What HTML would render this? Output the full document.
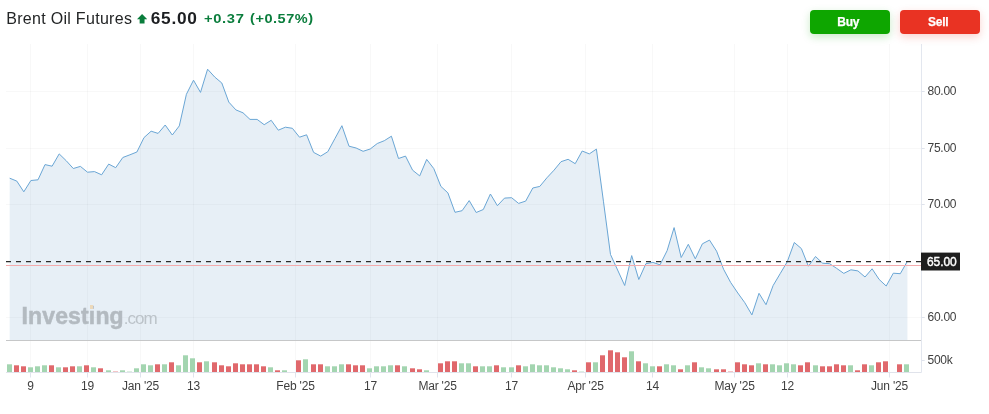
<!DOCTYPE html>
<html><head><meta charset="utf-8"><title>Brent Oil Futures</title>
<style>
html,body{margin:0;padding:0;background:#fff;}
body{width:989px;height:414px;overflow:hidden;position:relative;font-family:"Liberation Sans",sans-serif;}
#root{position:absolute;left:0;top:0;width:989px;height:414px;overflow:hidden;background:#fff;will-change:transform;-webkit-font-smoothing:antialiased;}
.hdr{position:absolute;left:0;top:0;width:400px;height:40px;color:#232526;}
.hdr span{position:absolute;white-space:nowrap;line-height:20px;height:20px;transform-origin:0 50%;display:block;}
.hdr .nm{font-size:16px;left:6.2px;top:9.1px;letter-spacing:0.3px;}
.hdr .pr{font-size:17.3px;font-weight:bold;left:150.8px;top:8.0px;letter-spacing:0.7px;transform:scaleX(1.0);color:#1c1e21;}
.hdr .ch{font-size:13.5px;font-weight:bold;color:#0a7d3c;left:204.2px;top:9.4px;letter-spacing:0.6px;transform:scaleX(1.09);}
.hdr .pc{font-size:13.5px;font-weight:bold;color:#0a7d3c;left:250.3px;top:9.4px;letter-spacing:0.5px;transform:scaleX(1.075);}
.hdr .pc i{font-style:normal;position:relative;top:-1.6px;}
.btn{position:absolute;top:10px;width:80.4px;height:24px;border-radius:4px;color:#fff;font-weight:bold;font-size:12px;line-height:24px;text-align:center;letter-spacing:-0.3px;box-sizing:border-box;padding-right:4px;-webkit-text-stroke:0.25px #fff;}
.buy{left:810px;background:#0ea600;box-shadow:0 3px 8px rgba(14,166,0,0.22);}
.sell{left:900px;background:#e93323;box-shadow:0 3px 8px rgba(233,51,35,0.22);}
.tl{position:absolute;top:378px;width:80px;text-align:center;font-size:12px;line-height:16px;color:#404040;letter-spacing:-0.2px;white-space:nowrap;}
.pl{position:absolute;left:927.5px;font-size:12px;line-height:16px;color:#404040;letter-spacing:-0.25px;white-space:nowrap;}
.cur{position:absolute;left:921px;top:252.8px;width:39px;height:17.5px;background:#1e1e1e;color:#fff;font-size:12px;font-weight:normal;-webkit-text-stroke:0.4px #fff;line-height:20.4px;text-align:center;letter-spacing:-0.1px;box-sizing:border-box;padding-left:2.2px;overflow:hidden;}
.wm{position:absolute;left:21.5px;top:302.5px;white-space:nowrap;color:#b3bac0;line-height:26px;height:26px;}
.wm b{font-size:23px;letter-spacing:0.15px;-webkit-text-stroke:0.5px #b3bac0;}
.wm span{font-size:17px;letter-spacing:-1.0px;color:#bcc3c9;}
.dot{position:absolute;left:90px;top:305.3px;width:3.4px;height:3.6px;background:#ecd9bb;}
</style></head><body><div id="root">
<svg width="989" height="414" viewBox="0 0 989 414" style="position:absolute;left:0;top:0">
<line x1="30.5" y1="44" x2="30.5" y2="372.5" stroke="rgba(0,0,0,0.027)" stroke-width="1"/>
<line x1="87.5" y1="44" x2="87.5" y2="372.5" stroke="rgba(0,0,0,0.027)" stroke-width="1"/>
<line x1="140.5" y1="44" x2="140.5" y2="372.5" stroke="rgba(0,0,0,0.027)" stroke-width="1"/>
<line x1="193.5" y1="44" x2="193.5" y2="372.5" stroke="rgba(0,0,0,0.027)" stroke-width="1"/>
<line x1="295.5" y1="44" x2="295.5" y2="372.5" stroke="rgba(0,0,0,0.027)" stroke-width="1"/>
<line x1="370.5" y1="44" x2="370.5" y2="372.5" stroke="rgba(0,0,0,0.027)" stroke-width="1"/>
<line x1="437.5" y1="44" x2="437.5" y2="372.5" stroke="rgba(0,0,0,0.027)" stroke-width="1"/>
<line x1="511.5" y1="44" x2="511.5" y2="372.5" stroke="rgba(0,0,0,0.027)" stroke-width="1"/>
<line x1="585.5" y1="44" x2="585.5" y2="372.5" stroke="rgba(0,0,0,0.027)" stroke-width="1"/>
<line x1="652.5" y1="44" x2="652.5" y2="372.5" stroke="rgba(0,0,0,0.027)" stroke-width="1"/>
<line x1="734.5" y1="44" x2="734.5" y2="372.5" stroke="rgba(0,0,0,0.027)" stroke-width="1"/>
<line x1="787.5" y1="44" x2="787.5" y2="372.5" stroke="rgba(0,0,0,0.027)" stroke-width="1"/>
<line x1="889.5" y1="44" x2="889.5" y2="372.5" stroke="rgba(0,0,0,0.027)" stroke-width="1"/>
<line x1="6" y1="91.5" x2="921.5" y2="91.5" stroke="rgba(0,0,0,0.027)" stroke-width="1"/>
<line x1="6" y1="148.5" x2="921.5" y2="148.5" stroke="rgba(0,0,0,0.027)" stroke-width="1"/>
<line x1="6" y1="204.5" x2="921.5" y2="204.5" stroke="rgba(0,0,0,0.027)" stroke-width="1"/>
<line x1="6" y1="317.5" x2="921.5" y2="317.5" stroke="rgba(0,0,0,0.027)" stroke-width="1"/>
<path d="M9.7 178.2 L16.8 181.1 L23.8 191.8 L30.9 180.5 L38.0 179.8 L45.0 164.6 L52.1 166.2 L59.2 153.9 L66.2 160.7 L73.3 168.5 L80.4 166.4 L87.5 172.2 L94.5 171.6 L101.6 174.8 L108.7 164.1 L115.7 167.7 L122.8 157.5 L129.9 154.8 L136.9 152.0 L144.0 137.6 L151.1 131.2 L158.1 133.4 L165.2 125.0 L172.3 135.0 L179.3 125.9 L186.4 94.3 L193.5 80.2 L200.5 92.4 L207.6 69.2 L214.7 77.0 L221.8 83.0 L228.8 102.1 L235.9 109.9 L243.0 112.8 L250.0 119.4 L257.1 119.4 L264.2 124.7 L271.2 120.3 L278.3 130.2 L285.4 127.2 L292.4 128.3 L299.5 137.2 L306.6 134.8 L313.6 152.4 L320.7 156.1 L327.8 151.7 L334.9 138.6 L341.9 125.7 L349.0 146.2 L356.1 148.0 L363.1 151.3 L370.2 149.0 L377.3 143.5 L384.3 140.7 L391.4 136.2 L398.5 158.5 L405.5 156.1 L412.6 170.2 L419.7 175.9 L426.7 159.4 L433.8 168.6 L440.9 186.4 L447.9 192.9 L455.0 212.3 L462.1 210.7 L469.2 200.6 L476.2 212.5 L483.3 209.5 L490.4 194.0 L497.4 205.7 L504.5 198.1 L511.6 197.7 L518.6 203.4 L525.7 201.1 L532.8 188.0 L539.8 186.4 L546.9 177.8 L554.0 170.2 L561.0 161.7 L568.1 159.3 L575.2 163.7 L582.2 151.0 L589.3 153.9 L596.4 149.1 L603.5 201.8 L610.5 254.5 L617.6 270.0 L624.7 285.5 L631.7 255.6 L638.8 279.5 L645.9 263.7 L652.9 262.4 L660.0 264.8 L667.1 250.7 L674.1 227.6 L681.2 257.5 L688.3 244.3 L695.3 258.8 L702.4 243.8 L709.5 240.1 L716.6 251.2 L723.6 269.3 L730.7 282.5 L737.8 293.0 L744.8 302.7 L751.9 314.9 L759.0 293.3 L766.0 304.7 L773.1 285.6 L780.2 273.6 L787.2 261.9 L794.3 242.5 L801.4 248.6 L808.4 266.2 L815.5 256.5 L822.6 263.2 L829.6 263.7 L836.7 268.4 L843.8 273.4 L850.9 269.8 L857.9 270.9 L865.0 277.0 L872.1 268.8 L879.1 279.4 L886.2 286.0 L893.3 273.2 L900.3 273.7 L907.4 261.2 L907.4 340 L9.7 340 Z" fill="#4684ba" fill-opacity="0.13" stroke="none"/>
<path d="M9.7 178.2 L16.8 181.1 L23.8 191.8 L30.9 180.5 L38.0 179.8 L45.0 164.6 L52.1 166.2 L59.2 153.9 L66.2 160.7 L73.3 168.5 L80.4 166.4 L87.5 172.2 L94.5 171.6 L101.6 174.8 L108.7 164.1 L115.7 167.7 L122.8 157.5 L129.9 154.8 L136.9 152.0 L144.0 137.6 L151.1 131.2 L158.1 133.4 L165.2 125.0 L172.3 135.0 L179.3 125.9 L186.4 94.3 L193.5 80.2 L200.5 92.4 L207.6 69.2 L214.7 77.0 L221.8 83.0 L228.8 102.1 L235.9 109.9 L243.0 112.8 L250.0 119.4 L257.1 119.4 L264.2 124.7 L271.2 120.3 L278.3 130.2 L285.4 127.2 L292.4 128.3 L299.5 137.2 L306.6 134.8 L313.6 152.4 L320.7 156.1 L327.8 151.7 L334.9 138.6 L341.9 125.7 L349.0 146.2 L356.1 148.0 L363.1 151.3 L370.2 149.0 L377.3 143.5 L384.3 140.7 L391.4 136.2 L398.5 158.5 L405.5 156.1 L412.6 170.2 L419.7 175.9 L426.7 159.4 L433.8 168.6 L440.9 186.4 L447.9 192.9 L455.0 212.3 L462.1 210.7 L469.2 200.6 L476.2 212.5 L483.3 209.5 L490.4 194.0 L497.4 205.7 L504.5 198.1 L511.6 197.7 L518.6 203.4 L525.7 201.1 L532.8 188.0 L539.8 186.4 L546.9 177.8 L554.0 170.2 L561.0 161.7 L568.1 159.3 L575.2 163.7 L582.2 151.0 L589.3 153.9 L596.4 149.1 L603.5 201.8 L610.5 254.5 L617.6 270.0 L624.7 285.5 L631.7 255.6 L638.8 279.5 L645.9 263.7 L652.9 262.4 L660.0 264.8 L667.1 250.7 L674.1 227.6 L681.2 257.5 L688.3 244.3 L695.3 258.8 L702.4 243.8 L709.5 240.1 L716.6 251.2 L723.6 269.3 L730.7 282.5 L737.8 293.0 L744.8 302.7 L751.9 314.9 L759.0 293.3 L766.0 304.7 L773.1 285.6 L780.2 273.6 L787.2 261.9 L794.3 242.5 L801.4 248.6 L808.4 266.2 L815.5 256.5 L822.6 263.2 L829.6 263.7 L836.7 268.4 L843.8 273.4 L850.9 269.8 L857.9 270.9 L865.0 277.0 L872.1 268.8 L879.1 279.4 L886.2 286.0 L893.3 273.2 L900.3 273.7 L907.4 261.2" fill="none" stroke="#6aa6d5" stroke-width="1.0" stroke-linejoin="round"/>
<line x1="6" y1="340.5" x2="921.5" y2="340.5" stroke="#c6c7c8" stroke-width="1"/>
<rect x="7" y="364.3" width="5" height="7.7" fill="#a3d5b0" fill-opacity="1"/>
<rect x="14" y="365.3" width="5" height="6.7" fill="#e0686c" fill-opacity="1"/>
<rect x="21" y="366.3" width="5" height="5.7" fill="#e0686c" fill-opacity="1"/>
<rect x="28" y="367.3" width="5" height="4.7" fill="#a3d5b0" fill-opacity="1"/>
<rect x="35" y="366.3" width="5" height="5.7" fill="#a3d5b0" fill-opacity="1"/>
<rect x="42" y="365.3" width="5" height="6.7" fill="#a3d5b0" fill-opacity="1"/>
<rect x="49" y="365.3" width="5" height="6.7" fill="#e0686c" fill-opacity="1"/>
<rect x="56" y="367.3" width="5" height="4.7" fill="#a3d5b0" fill-opacity="1"/>
<rect x="63" y="367.3" width="5" height="4.7" fill="#e0686c" fill-opacity="1"/>
<rect x="70" y="366.3" width="5" height="5.7" fill="#e0686c" fill-opacity="1"/>
<rect x="77" y="366.3" width="5" height="5.7" fill="#a3d5b0" fill-opacity="1"/>
<rect x="84" y="365.3" width="5" height="6.7" fill="#e0686c" fill-opacity="1"/>
<rect x="91" y="367.3" width="5" height="4.7" fill="#a3d5b0" fill-opacity="1"/>
<rect x="98" y="368.3" width="5" height="3.7" fill="#e0686c" fill-opacity="1"/>
<rect x="106" y="370.3" width="5" height="1.7" fill="#a3d5b0" fill-opacity="1"/>
<rect x="113" y="371.3" width="5" height="0.7" fill="#e0686c" fill-opacity="0.55"/>
<rect x="120" y="370.3" width="5" height="1.7" fill="#a3d5b0" fill-opacity="1"/>
<rect x="127" y="371.3" width="5" height="0.7" fill="#a3d5b0" fill-opacity="0.55"/>
<rect x="134" y="368.3" width="5" height="3.7" fill="#a3d5b0" fill-opacity="1"/>
<rect x="141" y="364.3" width="5" height="7.7" fill="#a3d5b0" fill-opacity="1"/>
<rect x="148" y="365.3" width="5" height="6.7" fill="#a3d5b0" fill-opacity="1"/>
<rect x="155" y="364.3" width="5" height="7.7" fill="#e0686c" fill-opacity="1"/>
<rect x="162" y="364.3" width="5" height="7.7" fill="#a3d5b0" fill-opacity="1"/>
<rect x="169" y="362.3" width="5" height="9.7" fill="#e0686c" fill-opacity="1"/>
<rect x="176" y="365.3" width="5" height="6.7" fill="#a3d5b0" fill-opacity="1"/>
<rect x="183" y="355.3" width="5" height="16.7" fill="#a3d5b0" fill-opacity="1"/>
<rect x="190" y="358.3" width="5" height="13.7" fill="#a3d5b0" fill-opacity="1"/>
<rect x="197" y="362.3" width="5" height="9.7" fill="#e0686c" fill-opacity="1"/>
<rect x="204" y="361.3" width="5" height="10.7" fill="#a3d5b0" fill-opacity="1"/>
<rect x="212" y="362.3" width="5" height="9.7" fill="#e0686c" fill-opacity="1"/>
<rect x="219" y="365.3" width="5" height="6.7" fill="#e0686c" fill-opacity="1"/>
<rect x="226" y="366.3" width="5" height="5.7" fill="#e0686c" fill-opacity="1"/>
<rect x="233" y="363.3" width="5" height="8.7" fill="#e0686c" fill-opacity="1"/>
<rect x="240" y="364.3" width="5" height="7.7" fill="#e0686c" fill-opacity="1"/>
<rect x="247" y="364.3" width="5" height="7.7" fill="#e0686c" fill-opacity="1"/>
<rect x="254" y="364.3" width="5" height="7.7" fill="#e0686c" fill-opacity="1"/>
<rect x="261" y="366.3" width="5" height="5.7" fill="#e0686c" fill-opacity="1"/>
<rect x="268" y="367.3" width="5" height="4.7" fill="#a3d5b0" fill-opacity="1"/>
<rect x="275" y="370.3" width="5" height="1.7" fill="#e0686c" fill-opacity="1"/>
<rect x="282" y="370.3" width="5" height="1.7" fill="#a3d5b0" fill-opacity="1"/>
<rect x="296" y="360.3" width="5" height="11.7" fill="#e0686c" fill-opacity="1"/>
<rect x="303" y="359.3" width="5" height="12.7" fill="#a3d5b0" fill-opacity="1"/>
<rect x="311" y="364.3" width="5" height="7.7" fill="#e0686c" fill-opacity="1"/>
<rect x="318" y="364.3" width="5" height="7.7" fill="#e0686c" fill-opacity="1"/>
<rect x="325" y="366.3" width="5" height="5.7" fill="#a3d5b0" fill-opacity="1"/>
<rect x="332" y="366.3" width="5" height="5.7" fill="#a3d5b0" fill-opacity="1"/>
<rect x="339" y="364.3" width="5" height="7.7" fill="#a3d5b0" fill-opacity="1"/>
<rect x="346" y="364.3" width="5" height="7.7" fill="#e0686c" fill-opacity="1"/>
<rect x="353" y="365.3" width="5" height="6.7" fill="#e0686c" fill-opacity="1"/>
<rect x="360" y="365.3" width="5" height="6.7" fill="#e0686c" fill-opacity="1"/>
<rect x="367" y="368.3" width="5" height="3.7" fill="#a3d5b0" fill-opacity="1"/>
<rect x="374" y="366.3" width="5" height="5.7" fill="#a3d5b0" fill-opacity="1"/>
<rect x="381" y="366.3" width="5" height="5.7" fill="#a3d5b0" fill-opacity="1"/>
<rect x="388" y="365.3" width="5" height="6.7" fill="#a3d5b0" fill-opacity="1"/>
<rect x="395" y="365.3" width="5" height="6.7" fill="#e0686c" fill-opacity="1"/>
<rect x="402" y="366.3" width="5" height="5.7" fill="#a3d5b0" fill-opacity="1"/>
<rect x="410" y="368.3" width="5" height="3.7" fill="#e0686c" fill-opacity="1"/>
<rect x="417" y="369.3" width="5" height="2.7" fill="#e0686c" fill-opacity="1"/>
<rect x="424" y="370.3" width="5" height="1.7" fill="#a3d5b0" fill-opacity="1"/>
<rect x="438" y="363.3" width="5" height="8.7" fill="#e0686c" fill-opacity="1"/>
<rect x="445" y="361.3" width="5" height="10.7" fill="#e0686c" fill-opacity="1"/>
<rect x="452" y="361.3" width="5" height="10.7" fill="#e0686c" fill-opacity="1"/>
<rect x="459" y="363.3" width="5" height="8.7" fill="#a3d5b0" fill-opacity="1"/>
<rect x="466" y="363.3" width="5" height="8.7" fill="#a3d5b0" fill-opacity="1"/>
<rect x="473" y="366.3" width="5" height="5.7" fill="#e0686c" fill-opacity="1"/>
<rect x="480" y="366.3" width="5" height="5.7" fill="#a3d5b0" fill-opacity="1"/>
<rect x="487" y="366.3" width="5" height="5.7" fill="#a3d5b0" fill-opacity="1"/>
<rect x="494" y="365.3" width="5" height="6.7" fill="#e0686c" fill-opacity="1"/>
<rect x="501" y="367.3" width="5" height="4.7" fill="#a3d5b0" fill-opacity="1"/>
<rect x="509" y="367.3" width="5" height="4.7" fill="#a3d5b0" fill-opacity="1"/>
<rect x="516" y="365.3" width="5" height="6.7" fill="#e0686c" fill-opacity="1"/>
<rect x="523" y="366.3" width="5" height="5.7" fill="#a3d5b0" fill-opacity="1"/>
<rect x="530" y="364.3" width="5" height="7.7" fill="#a3d5b0" fill-opacity="1"/>
<rect x="537" y="365.3" width="5" height="6.7" fill="#a3d5b0" fill-opacity="1"/>
<rect x="544" y="365.3" width="5" height="6.7" fill="#a3d5b0" fill-opacity="1"/>
<rect x="551" y="367.3" width="5" height="4.7" fill="#a3d5b0" fill-opacity="1"/>
<rect x="558" y="368.3" width="5" height="3.7" fill="#a3d5b0" fill-opacity="1"/>
<rect x="565" y="369.3" width="5" height="2.7" fill="#a3d5b0" fill-opacity="1"/>
<rect x="572" y="370.3" width="5" height="1.7" fill="#e0686c" fill-opacity="1"/>
<rect x="579" y="371.3" width="5" height="0.7" fill="#a3d5b0" fill-opacity="0.55"/>
<rect x="586" y="362.3" width="5" height="9.7" fill="#e0686c" fill-opacity="1"/>
<rect x="593" y="362.3" width="5" height="9.7" fill="#a3d5b0" fill-opacity="1"/>
<rect x="600" y="355.3" width="5" height="16.7" fill="#e0686c" fill-opacity="1"/>
<rect x="608" y="350.3" width="5" height="21.7" fill="#e0686c" fill-opacity="1"/>
<rect x="615" y="352.3" width="5" height="19.7" fill="#e0686c" fill-opacity="1"/>
<rect x="622" y="357.3" width="5" height="14.7" fill="#e0686c" fill-opacity="1"/>
<rect x="629" y="351.3" width="5" height="20.7" fill="#a3d5b0" fill-opacity="1"/>
<rect x="636" y="361.3" width="5" height="10.7" fill="#e0686c" fill-opacity="1"/>
<rect x="643" y="363.3" width="5" height="8.7" fill="#a3d5b0" fill-opacity="1"/>
<rect x="650" y="366.3" width="5" height="5.7" fill="#a3d5b0" fill-opacity="1"/>
<rect x="657" y="366.3" width="5" height="5.7" fill="#e0686c" fill-opacity="1"/>
<rect x="664" y="364.3" width="5" height="7.7" fill="#a3d5b0" fill-opacity="1"/>
<rect x="671" y="365.3" width="5" height="6.7" fill="#a3d5b0" fill-opacity="1"/>
<rect x="678" y="369.3" width="5" height="2.7" fill="#e0686c" fill-opacity="1"/>
<rect x="685" y="365.3" width="5" height="6.7" fill="#a3d5b0" fill-opacity="1"/>
<rect x="692" y="362.3" width="5" height="9.7" fill="#e0686c" fill-opacity="1"/>
<rect x="699" y="367.3" width="5" height="4.7" fill="#a3d5b0" fill-opacity="1"/>
<rect x="706" y="368.3" width="5" height="3.7" fill="#a3d5b0" fill-opacity="1"/>
<rect x="714" y="369.3" width="5" height="2.7" fill="#e0686c" fill-opacity="1"/>
<rect x="721" y="369.3" width="5" height="2.7" fill="#e0686c" fill-opacity="1"/>
<rect x="728" y="371.3" width="5" height="0.7" fill="#e0686c" fill-opacity="0.55"/>
<rect x="735" y="362.3" width="5" height="9.7" fill="#e0686c" fill-opacity="1"/>
<rect x="742" y="364.3" width="5" height="7.7" fill="#e0686c" fill-opacity="1"/>
<rect x="749" y="365.3" width="5" height="6.7" fill="#e0686c" fill-opacity="1"/>
<rect x="756" y="363.3" width="5" height="8.7" fill="#a3d5b0" fill-opacity="1"/>
<rect x="763" y="364.3" width="5" height="7.7" fill="#e0686c" fill-opacity="1"/>
<rect x="770" y="364.3" width="5" height="7.7" fill="#a3d5b0" fill-opacity="1"/>
<rect x="777" y="365.3" width="5" height="6.7" fill="#a3d5b0" fill-opacity="1"/>
<rect x="784" y="363.3" width="5" height="8.7" fill="#a3d5b0" fill-opacity="1"/>
<rect x="791" y="364.3" width="5" height="7.7" fill="#a3d5b0" fill-opacity="1"/>
<rect x="798" y="365.3" width="5" height="6.7" fill="#e0686c" fill-opacity="1"/>
<rect x="805" y="362.3" width="5" height="9.7" fill="#e0686c" fill-opacity="1"/>
<rect x="813" y="365.3" width="5" height="6.7" fill="#a3d5b0" fill-opacity="1"/>
<rect x="820" y="366.3" width="5" height="5.7" fill="#e0686c" fill-opacity="1"/>
<rect x="827" y="366.3" width="5" height="5.7" fill="#e0686c" fill-opacity="1"/>
<rect x="834" y="364.3" width="5" height="7.7" fill="#e0686c" fill-opacity="1"/>
<rect x="841" y="365.3" width="5" height="6.7" fill="#e0686c" fill-opacity="1"/>
<rect x="848" y="365.3" width="5" height="6.7" fill="#a3d5b0" fill-opacity="1"/>
<rect x="855" y="370.3" width="5" height="1.7" fill="#e0686c" fill-opacity="1"/>
<rect x="862" y="364.3" width="5" height="7.7" fill="#e0686c" fill-opacity="1"/>
<rect x="869" y="365.3" width="5" height="6.7" fill="#a3d5b0" fill-opacity="1"/>
<rect x="876" y="362.3" width="5" height="9.7" fill="#e0686c" fill-opacity="1"/>
<rect x="883" y="361.3" width="5" height="10.7" fill="#e0686c" fill-opacity="1"/>
<rect x="897" y="364.3" width="5" height="7.7" fill="#e0686c" fill-opacity="1"/>
<rect x="904" y="364.3" width="5" height="7.7" fill="#a3d5b0" fill-opacity="1"/>
<line x1="6" y1="372.5" x2="921.5" y2="372.5" stroke="#e0e3eb" stroke-width="1"/>
<line x1="921.5" y1="44" x2="921.5" y2="372.5" stroke="#e3e7ef" stroke-width="1"/>
<line x1="30.5" y1="372.5" x2="30.5" y2="377.5" stroke="#dfe3ec" stroke-width="1"/>
<line x1="87.5" y1="372.5" x2="87.5" y2="377.5" stroke="#dfe3ec" stroke-width="1"/>
<line x1="140.5" y1="372.5" x2="140.5" y2="377.5" stroke="#dfe3ec" stroke-width="1"/>
<line x1="193.5" y1="372.5" x2="193.5" y2="377.5" stroke="#dfe3ec" stroke-width="1"/>
<line x1="295.5" y1="372.5" x2="295.5" y2="377.5" stroke="#dfe3ec" stroke-width="1"/>
<line x1="370.5" y1="372.5" x2="370.5" y2="377.5" stroke="#dfe3ec" stroke-width="1"/>
<line x1="437.5" y1="372.5" x2="437.5" y2="377.5" stroke="#dfe3ec" stroke-width="1"/>
<line x1="511.5" y1="372.5" x2="511.5" y2="377.5" stroke="#dfe3ec" stroke-width="1"/>
<line x1="585.5" y1="372.5" x2="585.5" y2="377.5" stroke="#dfe3ec" stroke-width="1"/>
<line x1="652.5" y1="372.5" x2="652.5" y2="377.5" stroke="#dfe3ec" stroke-width="1"/>
<line x1="734.5" y1="372.5" x2="734.5" y2="377.5" stroke="#dfe3ec" stroke-width="1"/>
<line x1="787.5" y1="372.5" x2="787.5" y2="377.5" stroke="#dfe3ec" stroke-width="1"/>
<line x1="889.5" y1="372.5" x2="889.5" y2="377.5" stroke="#dfe3ec" stroke-width="1"/>
<line x1="921.5" y1="91.5" x2="924.7" y2="91.5" stroke="#dfe3ec" stroke-width="1"/>
<line x1="921.5" y1="148.5" x2="924.7" y2="148.5" stroke="#dfe3ec" stroke-width="1"/>
<line x1="921.5" y1="204.5" x2="924.7" y2="204.5" stroke="#dfe3ec" stroke-width="1"/>
<line x1="921.5" y1="317.5" x2="924.7" y2="317.5" stroke="#dfe3ec" stroke-width="1"/>
<line x1="921.5" y1="360.5" x2="924.7" y2="360.5" stroke="#dfe3ec" stroke-width="1"/>
<line x1="6" y1="265.5" x2="921.5" y2="265.5" stroke="#f4abad" stroke-width="1"/>
<line x1="6" y1="261.5" x2="921.5" y2="261.5" stroke="#2c2c2c" stroke-width="1.25" stroke-dasharray="5 5"/>
<rect x="921" y="252.6" width="39" height="17.9" fill="#1e1e1e"/>
<text x="927.0" y="265.75" font-family="Liberation Sans, sans-serif" font-size="12" fill="#fff" stroke="#fff" stroke-width="0.4" letter-spacing="-0.1">65.00</text>
</svg>
<div class="hdr"><span class="nm">Brent Oil Futures</span>
<svg style="position:absolute;left:136.5px;top:14.2px" width="10.2" height="9.6" viewBox="0 0 10 9.4"><path d="M5 0 L10 5.2 H7.4 V9.4 H2.6 V5.2 H0 Z" fill="#0a7d3c"/></svg>
<span class="pr">65.00</span><span class="ch">+0.37</span><span class="pc"><i>(</i>+0.57%<i>)</i></span></div>
<div class="btn buy">Buy</div><div class="btn sell">Sell</div>
<div class="wm"><b>Investing</b><span>.com</span></div><div class="dot"></div>
<div class="tl" style="left:-9.5px">9</div>
<div class="tl" style="left:47.5px">19</div>
<div class="tl" style="left:100.5px">Jan '25</div>
<div class="tl" style="left:153.5px">13</div>
<div class="tl" style="left:255.5px">Feb '25</div>
<div class="tl" style="left:330.5px">17</div>
<div class="tl" style="left:397.5px">Mar '25</div>
<div class="tl" style="left:471.5px">17</div>
<div class="tl" style="left:545.5px">Apr '25</div>
<div class="tl" style="left:612.5px">14</div>
<div class="tl" style="left:694.5px">May '25</div>
<div class="tl" style="left:747.5px">12</div>
<div class="tl" style="left:849.5px">Jun '25</div>
<div class="pl" style="top:82.5px">80.00</div>
<div class="pl" style="top:139.5px">75.00</div>
<div class="pl" style="top:195.5px">70.00</div>
<div class="pl" style="top:308.5px">60.00</div>
<div class="pl" style="top:351.5px">500k</div>

</div></body></html>
